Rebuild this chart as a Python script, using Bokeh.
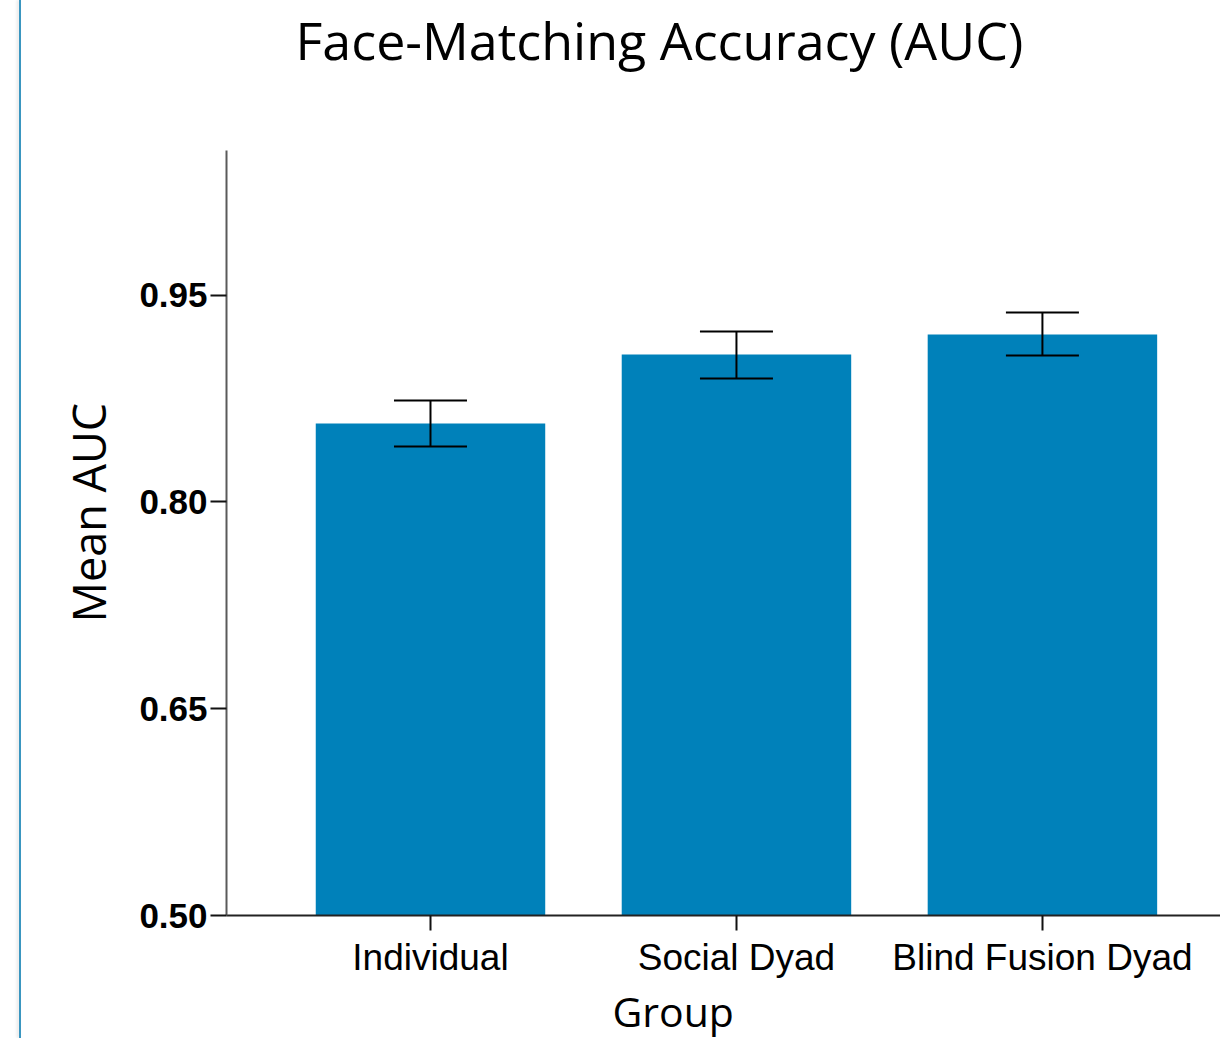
from bokeh.plotting import figure
from bokeh.models import (Range1d, FixedTicker, Whisker, TeeHead, ColumnDataSource,
                          Title, Div, NumeralTickFormatter)
from bokeh.layouts import row
from bokeh.embed import file_html
from bokeh.resources import INLINE

# ---- data ----
groups = ["Individual", "Social Dyad", "Blind Fusion Dyad"]
mean_auc = [0.857, 0.907, 0.9215]
ci_upper = [0.8736, 0.9237, 0.9375]
ci_lower = [0.8403, 0.8896, 0.9063]
y_ticks = [0.50, 0.65, 0.80, 0.95]

title_text = "Face-Matching Accuracy (AUC)"
x_label = "Group"
y_label = "Mean AUC"

# ---- layout constants ----
FIG_W, FIG_H = 1199, 1038
X0, X1 = -0.6667, 2.582
Y0, Y1 = 0.5, 1.055

xpos = list(range(len(groups)))
src = ColumnDataSource(dict(x=xpos, top=mean_auc, upper=ci_upper, lower=ci_lower))

p = figure(width=FIG_W, height=FIG_H, output_backend="svg", toolbar_location=None,
           x_range=Range1d(X0, X1), y_range=Range1d(Y0, Y1),
           min_border_left=205, min_border_right=0,
           min_border_top=150, min_border_bottom=123)
p.title = None
p.background_fill_color = "white"
p.border_fill_color = "white"
p.outline_line_color = None
p.xgrid.visible = False
p.ygrid.visible = False

p.vbar(x="x", top="top", bottom=Y0, width=0.75, source=src,
       fill_color="#0081BA", line_color=None)

w = Whisker(base="x", upper="upper", lower="lower", source=src,
            line_color="black", line_width=2, level="overlay",
            upper_head=TeeHead(size=73, line_color="black", line_width=2),
            lower_head=TeeHead(size=73, line_color="black", line_width=2))
p.add_layout(w)

# x axis
xa = p.xaxis[0]
xa.ticker = FixedTicker(ticks=xpos)
xa.major_label_overrides = {i: g for i, g in enumerate(groups)}
xa.axis_line_color = "#222222"
xa.axis_line_width = 2
xa.major_tick_line_color = "#111111"
xa.major_tick_line_width = 2
xa.major_tick_in = 0
xa.major_tick_out = 15
xa.minor_tick_line_color = None
xa.major_label_text_font = "Liberation Sans"
xa.major_label_text_font_size = "37px"
xa.major_label_text_color = "black"
xa.major_label_standoff = 6

# y axis
ya = p.yaxis[0]
ya.ticker = FixedTicker(ticks=y_ticks)
ya.formatter = NumeralTickFormatter(format="0.00")
ya.axis_line_color = "#5a5a5a"
ya.axis_line_width = 2
ya.major_tick_line_color = "#111111"
ya.major_tick_line_width = 2
ya.major_tick_in = 0
ya.major_tick_out = 16
ya.minor_tick_line_color = None
ya.major_label_text_font = "Liberation Sans"
ya.major_label_text_font_style = "bold"
ya.major_label_text_font_size = "35px"
ya.major_label_text_color = "black"
ya.major_label_standoff = 3

# y-axis title in the left panel, shifted along the axis like the reference
yt = Title(text=y_label, align="left", offset=293, standoff=36,
           text_font="Open Sans", text_font_size="45px", text_font_style="normal",
           text_color="black")
p.add_layout(yt, "left")

# spacer between frame and chart title (first "above" item sits next to the frame)
spacer = Title(text=" ", text_font_size="1px", standoff=75)
p.add_layout(spacer, "above")
t = Title(text=title_text, align="left", offset=69, standoff=-4,
          text_font="Open Sans", text_font_size="52px", text_font_style="normal",
          text_color="black")
p.add_layout(t, "above")

g = Title(text=x_label, align="left", offset=386, standoff=0,
          text_font="Open Sans", text_font_size="41px", text_font_style="normal",
          text_color="black")
p.add_layout(g, "below")

edge = Div(text="", width=2, height=FIG_H, margin=(0, 0, 0, 19),
           styles={"background-color": "#3a96c0",
                   "box-shadow": "-2px 0 3px rgba(0,0,0,0.12)"})

layout = row(edge, p, spacing=0)

open("out.html", "w").write(file_html(layout, INLINE))
